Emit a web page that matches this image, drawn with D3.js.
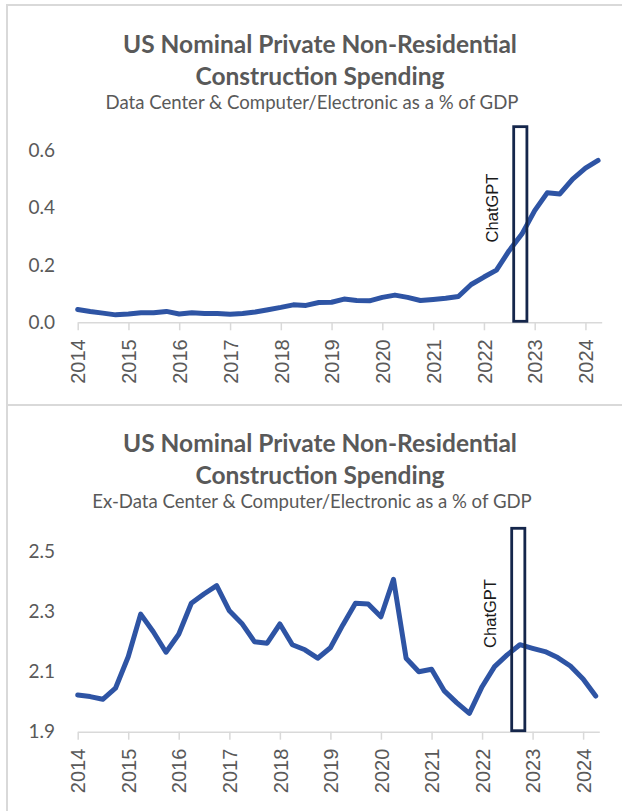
<!DOCTYPE html>
<html>
<head>
<meta charset="utf-8">
<script src="https://cdn.jsdelivr.net/npm/d3@7"></script>
<style>
  body { margin: 0; background: #fff; }
  svg { display: block; }
</style>
</head>
<body>
<svg id="chart" width="622" height="811"></svg>
<script>
// quarterly observations, first month of each quarter
const quarters = [
  '2014-01', '2014-04', '2014-07', '2014-10',
  '2015-01', '2015-04', '2015-07', '2015-10',
  '2016-01', '2016-04', '2016-07', '2016-10',
  '2017-01', '2017-04', '2017-07', '2017-10',
  '2018-01', '2018-04', '2018-07', '2018-10',
  '2019-01', '2019-04', '2019-07', '2019-10',
  '2020-01', '2020-04', '2020-07', '2020-10',
  '2021-01', '2021-04', '2021-07', '2021-10',
  '2022-01', '2022-04', '2022-07', '2022-10',
  '2023-01', '2023-04', '2023-07', '2023-10',
  '2024-01', '2024-04'
]

const dataCenterShare = [
  0.045, 0.038, 0.032, 0.026,
  0.029, 0.033, 0.033, 0.038,
  0.029, 0.033, 0.031, 0.031,
  0.028, 0.031, 0.036, 0.044,
  0.052, 0.061, 0.059, 0.069,
  0.070, 0.081, 0.076, 0.075,
  0.087, 0.095, 0.087, 0.076,
  0.080, 0.084, 0.090, 0.132,
  0.158, 0.182, 0.250, 0.308,
  0.390, 0.452, 0.448, 0.500,
  0.538, 0.565
]

const exDataCenterShare = [
  2.022, 2.017, 2.008, 2.045,
  2.150, 2.292, 2.233, 2.165,
  2.225, 2.328, 2.359, 2.387,
  2.303, 2.261, 2.200, 2.195,
  2.259, 2.190, 2.173, 2.145,
  2.180, 2.256, 2.328, 2.326,
  2.283, 2.408, 2.145, 2.100,
  2.108, 2.037, 1.997, 1.961,
  2.050, 2.117, 2.156, 2.190,
  2.178, 2.167, 2.147, 2.119,
  2.076, 2.019
]

const yearTicks = ['2014', '2015', '2016', '2017', '2018', '2019', '2020', '2021', '2022', '2023', '2024']
const topYTicks = [0, 0.2, 0.4, 0.6]
const bottomYTicks = [1.9, 2.1, 2.3, 2.5]

const titleLines = ['US Nominal Private Non-Residential', 'Construction Spending']
const subtitles = [
  'Data Center & Computer/Electronic as a % of GDP',
  'Ex-Data Center & Computer/Electronic as a % of GDP'
]
const markerLabel = 'ChatGPT'
const markerSpan = ['2022-08-03', '2022-11-06']

const parseMonth = d3.timeParse('%Y-%m')
const parseDay = d3.timeParse('%Y-%m-%d')
const parseYear = d3.timeParse('%Y')

const svg = d3.select('#chart')

const panels = [
  {
    values: dataCenterShare,
    subtitle: subtitles[0],
    yTicks: topYTicks,
    yDomain: [0, 0.7],
    boxTop: 0.683,
    frameY: 5,
    frameH: 400,
    titleY: 53,
    xRange: [77.7, 601.7],
    yRange: [322.3, 121.8]
  },
  {
    values: exDataCenterShare,
    subtitle: subtitles[1],
    yTicks: bottomYTicks,
    yDomain: [1.9, 2.6],
    boxTop: 2.578,
    frameY: 405,
    frameH: 500,
    titleY: 452,
    xRange: [77.7, 599.3],
    yRange: [731.7, 521.7]
  }
]

const grey = '#d9d9d9'
const textGrey = '#595959'
const lineBlue = '#2e54a4'

/**
 * Draws one framed chart panel.
 *
 * @param {object} p The panel settings
 */
function drawPanel (p) {
  const g = svg.append('g')

  g.append('rect')
    .attr('x', 7)
    .attr('y', p.frameY)
    .attr('width', 700)
    .attr('height', p.frameH)
    .attr('fill', 'none')
    .attr('stroke', grey)
    .attr('stroke-width', 2)

  // titles
  titleLines.forEach((t, i) => {
    g.append('text')
      .attr('x', 320)
      .attr('y', p.titleY + i * 32)
      .attr('text-anchor', 'middle')
      .style('font-family', 'Lato, sans-serif')
      .style('font-weight', 'bold')
      .style('font-size', '24.5px')
      .attr('fill', textGrey)
      .text(t)
  })
  g.append('text')
    .attr('x', 312)
    .attr('y', p.titleY + 56)
    .attr('text-anchor', 'middle')
    .style('font-family', 'Lato, sans-serif')
    .style('font-size', '18.6px')
    .attr('fill', textGrey)
    .text(p.subtitle)

  const x = d3.scaleTime()
    .domain([parseMonth('2014-01'), parseDay('2024-04-27')])
    .range(p.xRange)
  const y = d3.scaleLinear().domain(p.yDomain).range(p.yRange)

  // x axis
  const xAxis = g.append('g')
    .attr('transform', `translate(0,${p.yRange[0]})`)
    .call(d3.axisBottom(x)
      .tickValues(yearTicks.map(parseYear))
      .tickFormat(d3.timeFormat('%Y'))
      .tickSize(8)
      .tickSizeOuter(0))
  xAxis.select('.domain').attr('stroke', grey).attr('stroke-width', 1.5)
  xAxis.selectAll('.tick line').attr('stroke', grey).attr('stroke-width', 1.5)
  xAxis.selectAll('.tick text')
    .attr('transform', 'rotate(-90)')
    .attr('text-anchor', 'end')
    .attr('x', -17)
    .attr('y', 0)
    .attr('dy', '0.36em')
    .style('font-family', '"Liberation Sans", Arial, sans-serif')
    .style('font-size', '20px')
    .attr('fill', textGrey)

  // y axis, labels only
  const yAxis = g.append('g')
    .attr('transform', 'translate(55,0)')
    .call(d3.axisLeft(y)
      .tickValues(p.yTicks)
      .tickFormat(d3.format('.1f'))
      .tickSize(0)
      .tickPadding(0))
  yAxis.select('.domain').remove()
  yAxis.selectAll('.tick text')
    .style('font-family', 'Lato, sans-serif')
    .style('font-size', '19px')
    .attr('fill', textGrey)

  const series = quarters.map((q, i) => ({ date: parseMonth(q), value: p.values[i] }))
  const line = d3.line()
    .x(d => x(d.date))
    .y(d => y(d.value))

  g.append('path')
    .datum(series)
    .attr('d', line)
    .attr('fill', 'none')
    .attr('stroke', lineBlue)
    .attr('stroke-width', 5)
    .attr('stroke-linejoin', 'round')
    .attr('stroke-linecap', 'round')

  // ChatGPT marker box
  const x0 = x(parseDay(markerSpan[0]))
  const x1 = x(parseDay(markerSpan[1]))
  const yTop = y(p.boxTop)
  const yBot = y(p.yDomain[0]) - 1
  g.append('rect')
    .attr('x', x0)
    .attr('y', yTop)
    .attr('width', x1 - x0)
    .attr('height', yBot - yTop)
    .attr('fill', 'none')
    .attr('stroke', '#15264b')
    .attr('stroke-width', 2.8)

  g.append('text')
    .attr('transform', `translate(${x0 - 21},${(yTop + yBot) / 2 - 16}) rotate(-90)`)
    .attr('text-anchor', 'middle')
    .attr('dy', '0.35em')
    .style('font-family', '"Liberation Sans", Arial, sans-serif')
    .style('font-size', '16.5px')
    .attr('fill', '#1a1a1a')
    .text(markerLabel)
}

panels.forEach(drawPanel)
</script>
</body>
</html>
